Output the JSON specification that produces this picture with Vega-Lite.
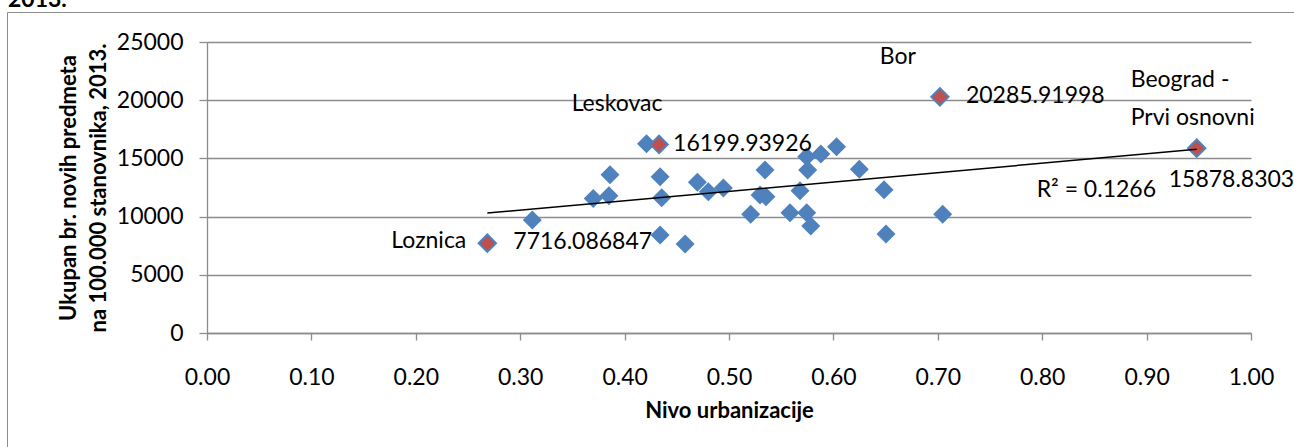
{
  "$schema": "https://vega.github.io/schema/vega-lite/v6.json",
  "autosize": "none",
  "width": 1287,
  "height": 435,
  "padding": {"left": 7, "top": 12, "right": 0, "bottom": 0},
  "background": "white",
  "config": {
    "font": "Lato",
    "view": {"stroke": "#8c8c8c", "strokeWidth": 1},
    "axis": {
      "labelFont": "Lato", "labelFontSize": 23, "labelColor": "black",
      "titleFont": "Lato", "titleFontSize": 22, "titleFontWeight": "bold", "titleColor": "black",
      "domainColor": "#8c8c8c", "tickColor": "#8c8c8c", "gridColor": "#8c8c8c",
      "domainWidth": 1.3, "tickWidth": 1.3, "gridWidth": 1.3
    }
  },
  "datasets": {
    "blue": [
      {"urb": 0.3116, "predmeti": 9700},
      {"urb": 0.370, "predmeti": 11550},
      {"urb": 0.385, "predmeti": 11800},
      {"urb": 0.386, "predmeti": 13600},
      {"urb": 0.421, "predmeti": 16250},
      {"urb": 0.434, "predmeti": 13430},
      {"urb": 0.4355, "predmeti": 11620},
      {"urb": 0.434, "predmeti": 8420},
      {"urb": 0.458, "predmeti": 7650},
      {"urb": 0.4697, "predmeti": 12950},
      {"urb": 0.4802, "predmeti": 12140},
      {"urb": 0.4946, "predmeti": 12450},
      {"urb": 0.5345, "predmeti": 14000},
      {"urb": 0.5297, "predmeti": 11850},
      {"urb": 0.5354, "predmeti": 11700},
      {"urb": 0.5208, "predmeti": 10200},
      {"urb": 0.5584, "predmeti": 10340},
      {"urb": 0.5744, "predmeti": 15150},
      {"urb": 0.5754, "predmeti": 14000},
      {"urb": 0.568, "predmeti": 12220},
      {"urb": 0.5744, "predmeti": 10340},
      {"urb": 0.5783, "predmeti": 9190},
      {"urb": 0.588, "predmeti": 15380},
      {"urb": 0.603, "predmeti": 16000},
      {"urb": 0.6248, "predmeti": 14060},
      {"urb": 0.6485, "predmeti": 12300},
      {"urb": 0.6504, "predmeti": 8500},
      {"urb": 0.7047, "predmeti": 10200}
    ],
    "red": [
      {"city": "Loznica", "urb": 0.2685, "predmeti": 7716.086847, "label": "7716.086847"},
      {"city": "Leskovac", "urb": 0.433, "predmeti": 16199.93926, "label": "16199.93926"},
      {"city": "Bor", "urb": 0.702, "predmeti": 20285.91998, "label": "20285.91998"},
      {"city": "Beograd -\nPrvi osnovni", "urb": 0.948, "predmeti": 15878.8303, "label": "15878.8303"}
    ],
    "trend": [
      {"urb": 0.2685, "predmeti": 10300},
      {"urb": 0.948, "predmeti": 15780}
    ],
    "notes": [
      {"urb": 0.7947, "predmeti": 12300, "t": "R² = 0.1266"}
    ],
    "heading": [
      {"urb": -0.1906, "predmeti": 28000, "t": "2013."}
    ]
  },
  "encoding": {
    "x": {
      "field": "urb", "type": "quantitative",
      "scale": {"domain": [0, 1], "range": [200, 1244], "nice": false, "zero": false},
      "axis": {
        "title": "Nivo urbanizacije", "values": [0, 0.1, 0.2, 0.3, 0.4, 0.5, 0.6, 0.7, 0.8, 0.9, 1.0],
        "format": ".2f", "offset": -114, "grid": false, "tickSize": 7, "labelPadding": 26,
        "labelFlush": false, "labelOverlap": false, "titlePadding": 11
      }
    },
    "y": {
      "field": "predmeti", "type": "quantitative",
      "scale": {"domain": [0, 25000], "range": [321, 30], "nice": false, "zero": false},
      "axis": {
        "title": ["Ukupan br. novih predmeta", "na 100.000 stanovnika, 2013."],
        "values": [0, 5000, 10000, 15000, 20000, 25000], "format": "d",
        "offset": -200, "grid": true, "tickSize": 8, "labelPadding": 16,
        "labelFlush": false, "labelOverlap": false, "titlePadding": 6, "titleLineHeight": 30
      }
    }
  },
  "layer": [
    {
      "data": {"name": "blue"},
      "mark": {"type": "point", "shape": "diamond", "filled": true, "size": 361, "color": "#4F81BD", "opacity": 1}
    },
    {
      "data": {"name": "red"},
      "mark": {"type": "point", "shape": "diamond", "filled": true, "size": 300, "fill": "#C0504D", "stroke": "#4F81BD", "strokeWidth": 2, "opacity": 1}
    },
    {
      "data": {"name": "trend"},
      "mark": {"type": "line", "color": "black", "strokeWidth": 1.5}
    },
    {
      "data": {"name": "red"},
      "transform": [{"filter": "datum.city === 'Loznica'"}],
      "mark": {"type": "text", "align": "right", "baseline": "middle", "dx": -21, "dy": -2, "fontSize": 23, "color": "black"},
      "encoding": {"text": {"field": "city", "type": "nominal"}}
    },
    {
      "data": {"name": "red"},
      "transform": [{"filter": "datum.city === 'Loznica' || datum.city === 'Bor'"}],
      "mark": {"type": "text", "align": "left", "baseline": "middle", "dx": 26, "dy": -1, "fontSize": 23, "color": "black"},
      "encoding": {"text": {"field": "label", "type": "nominal"}}
    },
    {
      "data": {"name": "red"},
      "transform": [{"filter": "datum.city === 'Leskovac'"}],
      "mark": {"type": "text", "align": "left", "baseline": "middle", "dx": 14, "dy": 0, "fontSize": 23, "color": "black"},
      "encoding": {"text": {"field": "label", "type": "nominal"}}
    },
    {
      "data": {"name": "red"},
      "transform": [{"filter": "datum.city === 'Leskovac' || datum.city === 'Bor'"}],
      "mark": {"type": "text", "align": "center", "baseline": "middle", "dx": -42, "dy": -40, "fontSize": 23, "color": "black"},
      "encoding": {"text": {"field": "city", "type": "nominal"}}
    },
    {
      "data": {"name": "red"},
      "transform": [{"filter": "datum.urb > 0.9"}],
      "mark": {"type": "text", "align": "left", "baseline": "middle", "dx": -66, "dy": -68, "fontSize": 23, "color": "black", "lineBreak": "\n", "lineHeight": 38},
      "encoding": {"text": {"field": "city", "type": "nominal"}}
    },
    {
      "data": {"name": "red"},
      "transform": [{"filter": "datum.urb > 0.9"}],
      "mark": {"type": "text", "align": "left", "baseline": "middle", "dx": -28, "dy": 32, "fontSize": 23, "color": "black"},
      "encoding": {"text": {"field": "label", "type": "nominal"}}
    },
    {
      "data": {"name": "notes"},
      "mark": {"type": "text", "align": "left", "baseline": "middle", "fontSize": 23, "color": "black"},
      "encoding": {"text": {"field": "t", "type": "nominal"}}
    },
    {
      "data": {"name": "heading"},
      "mark": {"type": "text", "align": "left", "baseline": "alphabetic", "fontSize": 23, "fontWeight": "bold", "color": "black", "clip": false},
      "encoding": {"text": {"field": "t", "type": "nominal"}}
    }
  ]
}
